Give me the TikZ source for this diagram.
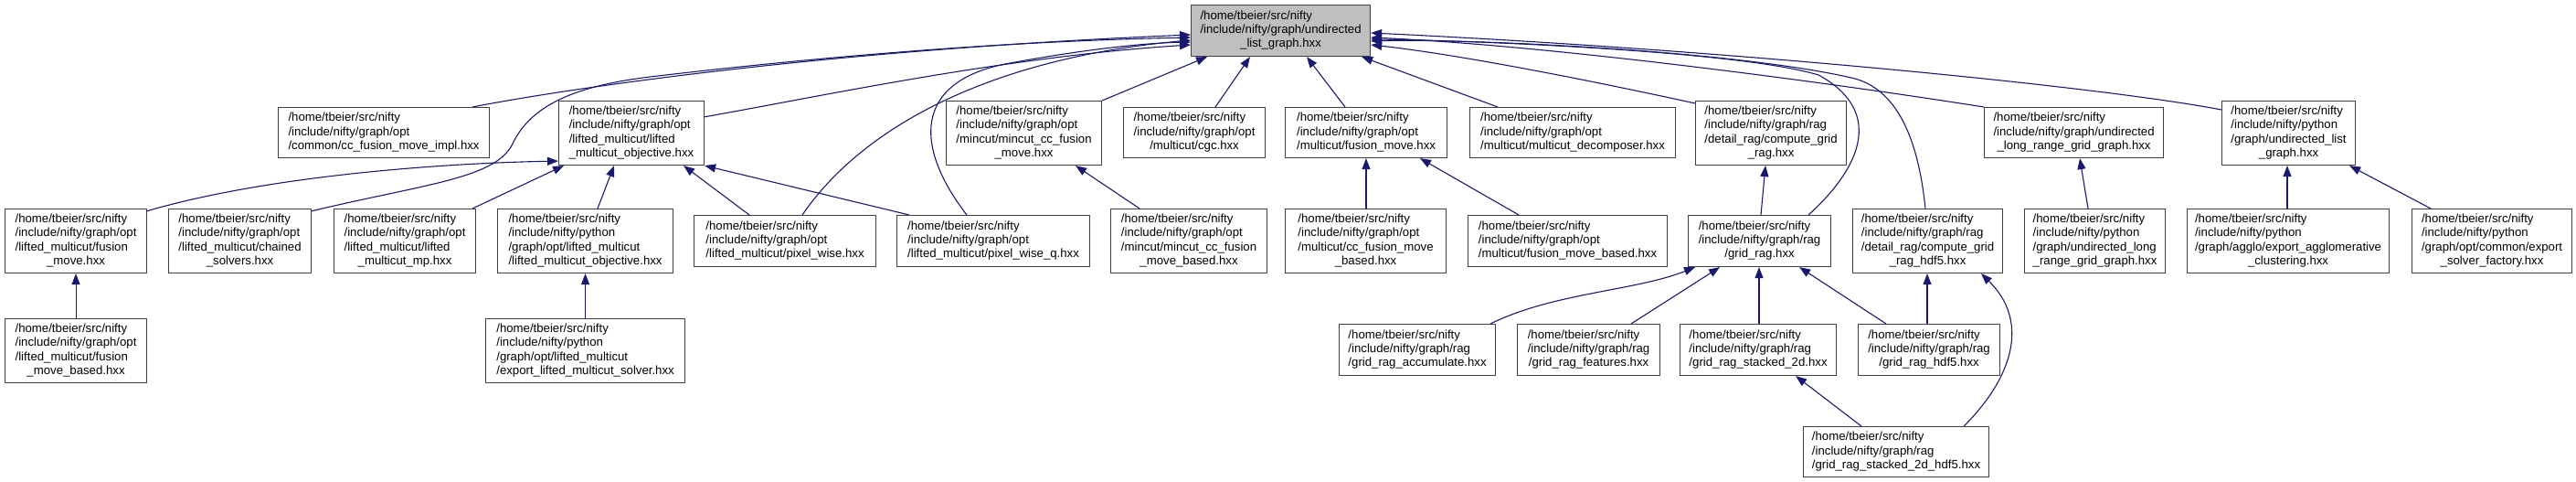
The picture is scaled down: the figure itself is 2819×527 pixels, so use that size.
\documentclass[tikz,border=0pt]{standalone}
\usepackage{fontspec}
\setmainfont{Liberation Sans}
\usetikzlibrary{arrows.meta,calc}
\definecolor{edgeblue}{HTML}{191970}
\definecolor{rootgray}{HTML}{BFBFBF}
\newcommand\tl[2]{\begin{tabular}{@{}l@{}}#1\\\multicolumn{1}{@{}c@{}}{#2}\end{tabular}}
\newcommand\bx[6]{\node[box,minimum width=#4pt,minimum height=#5pt] (#1) at (#2,#3) {#6};}
\begin{document}
\begin{tikzpicture}[x=1pt,y=-1pt,
  box/.style={draw=black!75, line width=1.1pt, fill=white, inner sep=0pt, anchor=north west, font=\fontsize{13.2}{15.2}\selectfont},
  dep/.style={draw=edgeblue, line width=1.1pt, -{Triangle[length=12pt,width=9pt]}}]
\useasboundingbox (0,0) rectangle (2819,527);
% row 1
\node[box,fill=rootgray,minimum width=196pt,minimum height=56pt] (root) at (1303,5) {\tl{/home/tbeier/src/nifty\\/include/nifty/graph/undirected}{\_list\_graph.hxx}};
% row 2
\bx{ccimpl}{304}{117}{231}{55}{\tl{/home/tbeier/src/nifty\\/include/nifty/graph/opt}{/common/cc\_fusion\_move\_impl.hxx}}
\bx{lmobj}{611}{110}{159}{70}{\tl{/home/tbeier/src/nifty\\/include/nifty/graph/opt\\/lifted\_multicut/lifted}{\_multicut\_objective.hxx}}
\bx{mccfm}{1035}{110}{170}{70}{\tl{/home/tbeier/src/nifty\\/include/nifty/graph/opt\\/mincut/mincut\_cc\_fusion}{\_move.hxx}}
\bx{cgc}{1229}{117}{155}{55}{\tl{/home/tbeier/src/nifty\\/include/nifty/graph/opt}{/multicut/cgc.hxx}}
\bx{mcfm}{1406}{117}{177}{55}{\tl{/home/tbeier/src/nifty\\/include/nifty/graph/opt}{/multicut/fusion\_move.hxx}}
\bx{mcdec}{1608}{117}{225}{55}{\tl{/home/tbeier/src/nifty\\/include/nifty/graph/opt}{/multicut/multicut\_decomposer.hxx}}
\bx{cgr}{1855}{110}{165}{70}{\tl{/home/tbeier/src/nifty\\/include/nifty/graph/rag\\/detail\_rag/compute\_grid}{\_rag.hxx}}
\bx{lrgg}{2171}{117}{196}{55}{\tl{/home/tbeier/src/nifty\\/include/nifty/graph/undirected}{\_long\_range\_grid\_graph.hxx}}
\bx{pyulg}{2431}{110}{146}{70}{\tl{/home/tbeier/src/nifty\\/include/nifty/python\\/graph/undirected\_list}{\_graph.hxx}}
% row 3
\bx{lmfm}{5}{228}{155}{70}{\tl{/home/tbeier/src/nifty\\/include/nifty/graph/opt\\/lifted\_multicut/fusion}{\_move.hxx}}
\bx{lmcs}{184}{228}{156}{70}{\tl{/home/tbeier/src/nifty\\/include/nifty/graph/opt\\/lifted\_multicut/chained}{\_solvers.hxx}}
\bx{lmmp}{365}{228}{155}{70}{\tl{/home/tbeier/src/nifty\\/include/nifty/graph/opt\\/lifted\_multicut/lifted}{\_multicut\_mp.hxx}}
\bx{pylmo}{544}{228}{192}{70}{\tl{/home/tbeier/src/nifty\\/include/nifty/python\\/graph/opt/lifted\_multicut}{/lifted\_multicut\_objective.hxx}}
\bx{pw}{759}{235}{199}{56}{\tl{/home/tbeier/src/nifty\\/include/nifty/graph/opt}{/lifted\_multicut/pixel\_wise.hxx}}
\bx{pwq}{981}{235}{211}{56}{\tl{/home/tbeier/src/nifty\\/include/nifty/graph/opt}{/lifted\_multicut/pixel\_wise\_q.hxx}}
\bx{mccfmb}{1215}{228}{171}{70}{\tl{/home/tbeier/src/nifty\\/include/nifty/graph/opt\\/mincut/mincut\_cc\_fusion}{\_move\_based.hxx}}
\bx{mcccfmb}{1406}{228}{176}{70}{\tl{/home/tbeier/src/nifty\\/include/nifty/graph/opt\\/multicut/cc\_fusion\_move}{\_based.hxx}}
\bx{mcfmb}{1606}{235}{218}{56}{\tl{/home/tbeier/src/nifty\\/include/nifty/graph/opt}{/multicut/fusion\_move\_based.hxx}}
\bx{gr}{1847}{235}{156}{56}{\tl{/home/tbeier/src/nifty\\/include/nifty/graph/rag}{/grid\_rag.hxx}}
\bx{cgrh}{2027}{228}{164}{70}{\tl{/home/tbeier/src/nifty\\/include/nifty/graph/rag\\/detail\_rag/compute\_grid}{\_rag\_hdf5.hxx}}
\bx{pylrgg}{2215}{228}{154}{70}{\tl{/home/tbeier/src/nifty\\/include/nifty/python\\/graph/undirected\_long}{\_range\_grid\_graph.hxx}}
\bx{pyagg}{2393}{228}{221}{70}{\tl{/home/tbeier/src/nifty\\/include/nifty/python\\/graph/agglo/export\_agglomerative}{\_clustering.hxx}}
\bx{pysf}{2639}{228}{175}{70}{\tl{/home/tbeier/src/nifty\\/include/nifty/python\\/graph/opt/common/export}{\_solver\_factory.hxx}}
% row 4
\bx{lmfmb}{5}{348}{155}{70}{\tl{/home/tbeier/src/nifty\\/include/nifty/graph/opt\\/lifted\_multicut/fusion}{\_move\_based.hxx}}
\bx{pylms}{531}{348}{218}{70}{\tl{/home/tbeier/src/nifty\\/include/nifty/python\\/graph/opt/lifted\_multicut}{/export\_lifted\_multicut\_solver.hxx}}
\bx{gra}{1465}{354}{171}{56}{\tl{/home/tbeier/src/nifty\\/include/nifty/graph/rag}{/grid\_rag\_accumulate.hxx}}
\bx{grf}{1660}{354}{156}{56}{\tl{/home/tbeier/src/nifty\\/include/nifty/graph/rag}{/grid\_rag\_features.hxx}}
\bx{grs}{1838}{354}{171}{56}{\tl{/home/tbeier/src/nifty\\/include/nifty/graph/rag}{/grid\_rag\_stacked\_2d.hxx}}
\bx{grh}{2033}{354}{155}{56}{\tl{/home/tbeier/src/nifty\\/include/nifty/graph/rag}{/grid\_rag\_hdf5.hxx}}
% row 5
\bx{grsh}{1973}{466}{203}{55}{\tl{/home/tbeier/src/nifty\\/include/nifty/graph/rag}{/grid\_rag\_stacked\_2d\_hdf5.hxx}}
% edges to root
\draw[dep] ($(ccimpl.north west)+(213,0)$) .. controls (620,97) and (900,55) .. ($(root.north west)+(0,33)$);
\draw[dep] ($(lmobj.north west)+(159,18)$) .. controls (900,105) and (1100,62) .. ($(root.north west)+(0,44)$);
\draw[dep] ($(lmcs.north west)+(156,3)$) .. controls (470,200) and (545,195) .. (562,155) .. controls (585,110) and (640,92) .. (720,83) .. controls (900,62) and (1100,45) .. ($(root.north west)+(0,36)$);
\draw[dep] ($(pw.north west)+(119,0)$) .. controls (950,130) and (1100,62) .. ($(root.north west)+(0,39)$);
\draw[dep] ($(pwq.north west)+(77,0)$) .. controls (1000,160) and (1000,90) .. (1100,70) .. controls (1180,55) and (1250,47) .. ($(root.north west)+(0,41)$);
\draw[dep] (mccfm.north east) -- ($(root.south west)+(18,0)$);
\draw[dep] ($(cgc.north west)+(101,0)$) -- ($(root.south west)+(65,0)$);
\draw[dep] ($(mcfm.north west)+(66,0)$) -- ($(root.south west)+(127,0)$);
\draw[dep] ($(mcdec.north west)+(31,0)$) -- ($(root.south east)+(-10,0)$);
\draw[dep] ($(cgr.north west)+(0,3)$) .. controls (1750,90) and (1600,60) .. ($(root.north east)+(0,44)$);
\draw[dep] (lrgg.north west) .. controls (2000,90) and (1700,50) .. ($(root.north east)+(0,36)$);
\draw[dep] ($(pyulg.north west)+(0,10)$) .. controls (2300,95) and (1900,55) .. ($(root.north east)+(0,31)$);
\draw[dep] ($(gr.north west)+(132,0)$) .. controls (2040,180) and (2060,120) .. (1990,82) .. controls (1900,55) and (1600,44) .. ($(root.north east)+(0,38)$);
\draw[dep] ($(cgrh.north west)+(80,0)$) .. controls (2100,160) and (2080,100) .. (2030,86) .. controls (1900,55) and (1600,42) .. ($(root.north east)+(0,40)$);
% edges to lifted multicut objective
\draw[dep] ($(lmfm.north west)+(155,3)$) .. controls (300,190) and (500,178) .. ($(lmobj.south west)+(0,-5)$);
\draw[dep] ($(lmmp.north west)+(152,0)$) -- ($(lmobj.south west)+(6,0)$);
\draw[dep] ($(pylmo.north west)+(110,0)$) -- ($(lmobj.south west)+(61,0)$);
\draw[dep] ($(pw.north west)+(61,0)$) -- ($(lmobj.south west)+(137,0)$);
\draw[dep] ($(pwq.north west)+(14,0)$) -- (lmobj.south east);
% other edges
\draw[dep] ($(mccfmb.north west)+(32,0)$) -- ($(mccfm.south west)+(142,0)$);
\draw[dep] ($(mcccfmb.north west)+(89,0)$) -- ($(mcfm.south west)+(89,0)$);
\draw[dep] ($(mcfmb.north west)+(56,0)$) -- ($(mcfm.south west)+(148,0)$);
\draw[dep] ($(gr.north west)+(80,0)$) -- ($(cgr.south west)+(77,0)$);
\draw[dep] ($(pylrgg.north west)+(70,0)$) -- ($(lrgg.south west)+(105,0)$);
\draw[dep] ($(pyagg.north west)+(110,0)$) -- ($(pyulg.south west)+(72,0)$);
\draw[dep] ($(pysf.north west)+(21,0)$) -- ($(pyulg.south east)+(-7,0)$);
\draw[dep] (lmfmb.north) -- (lmfm.south);
\draw[dep] (pylms.north) -- (pylmo.south);
\draw[dep] ($(gra.north east)+(-6,0)$) .. controls (1700,320) and (1790,318) .. ($(gr.south west)+(8,0)$);
\draw[dep] ($(grf.north west)+(125,0)$) -- ($(gr.south west)+(35,0)$);
\draw[dep] ($(grs.north west)+(87,0)$) -- ($(gr.south west)+(78,0)$);
\draw[dep] ($(grh.north west)+(31,0)$) -- ($(gr.south east)+(-35,0)$);
\draw[dep] ($(grh.north west)+(76,0)$) -- ($(cgrh.south west)+(82,0)$);
\draw[dep] ($(grsh.north west)+(64,0)$) -- ($(grs.south east)+(-45,0)$);
\draw[dep] ($(grsh.north east)+(-28,0)$) .. controls (2205,410) and (2220,350) .. ($(cgrh.south west)+(141,0)$);
\end{tikzpicture}
\end{document}
